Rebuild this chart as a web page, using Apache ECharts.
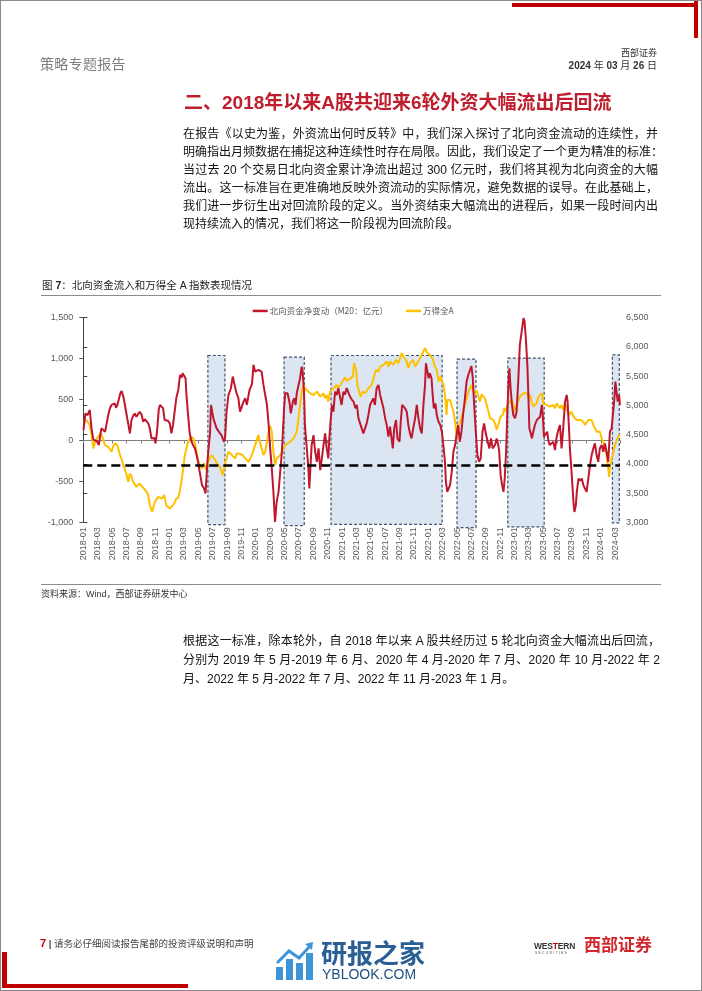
<!DOCTYPE html>
<html><head><meta charset="utf-8">
<script src="https://cdn.jsdelivr.net/npm/echarts/dist/echarts.min.js"></script>
<style>
html,body{margin:0;padding:0;background:#fff;}
#page{position:relative;width:702px;height:991px;overflow:hidden;background:#fff;font-family:"Liberation Sans","Noto Sans CJK SC",sans-serif;}
#frame{position:absolute;left:0;top:0;width:702px;height:991px;box-sizing:border-box;border:1px solid #8a8a8a;z-index:3;pointer-events:none;}
#chart{position:absolute;left:0;top:0;width:702px;height:991px;z-index:1;}
.t{position:absolute;white-space:nowrap;z-index:2;}
.ln{position:absolute;z-index:2;font-size:12px;line-height:19px;height:19px;color:#111;text-align:justify;text-align-last:justify;white-space:nowrap;}
.ln.last{text-align-last:left;}
.bar{position:absolute;background:#C00000;z-index:2;}
</style></head>
<body><div id="page">
<div id="frame"></div>
<div id="chart"></div>
<div class="bar" style="left:512px;top:3px;width:186px;height:3.5px;"></div>
<div class="bar" style="left:694px;top:0;width:4px;height:38px;"></div>
<div class="t" style="left:40px;top:55px;font-size:14px;line-height:18px;color:#808080;letter-spacing:0.3px;">策略专题报告</div>
<div class="t" style="right:45px;top:48px;font-size:9px;line-height:11px;color:#333;">西部证券</div>
<div class="t" style="right:45px;top:60px;font-size:10px;line-height:12px;color:#333;font-weight:bold;">2024 <span style="font-weight:normal">年</span> 03 <span style="font-weight:normal">月</span> 26 <span style="font-weight:normal">日</span></div>
<div class="t" style="left:184px;top:91px;font-size:19px;line-height:24px;color:#BE1E2D;font-weight:bold;">二、2018年以来A股共迎来6轮外资大幅流出后回流</div>

<div class="ln" style="left:183px;top:124.5px;width:475px;">在报告《以史为鉴，外资流出何时反转》中，我们深入探讨了北向资金流动的连续性，并</div>
<div class="ln" style="left:183px;top:142.5px;width:475px;">明确指出月频数据在捕捉这种连续性时存在局限。因此，我们设定了一个更为精准的标准：</div>
<div class="ln" style="left:183px;top:160.5px;width:475px;">当过去 20 个交易日北向资金累计净流出超过 300 亿元时，我们将其视为北向资金的大幅</div>
<div class="ln" style="left:183px;top:178.5px;width:475px;">流出。这一标准旨在更准确地反映外资流动的实际情况，避免数据的误导。在此基础上，</div>
<div class="ln" style="left:183px;top:196.5px;width:475px;">我们进一步衍生出对回流阶段的定义。当外资结束大幅流出的进程后，如果一段时间内出</div>
<div class="ln last" style="left:183px;top:214.5px;width:475px;">现持续流入的情况，我们将这一阶段视为回流阶段。</div>

<div class="t" style="left:42px;top:278px;font-size:10.5px;line-height:14px;color:#222;">图 <b>7</b>：北向资金流入和万得全 A 指数表现情况</div>
<div class="t" style="left:41px;top:295px;width:620px;height:0;border-top:1px solid #8c8c8c;"></div>
<div class="t" style="left:41px;top:584px;width:620px;height:0;border-top:1px solid #8c8c8c;"></div>
<div class="t" style="left:41px;top:588px;font-size:9px;line-height:12px;color:#333;">资料来源：Wind，西部证券研发中心</div>

<div class="ln" style="left:183px;top:631.5px;width:477px;">根据这一标准，除本轮外，自 2018 年以来 A 股共经历过 5 轮北向资金大幅流出后回流，</div>
<div class="ln" style="left:183px;top:650.5px;width:477px;">分别为 2019 年 5 月-2019 年 6 月、2020 年 4 月-2020 年 7 月、2020 年 10 月-2022 年 2</div>
<div class="ln last" style="left:183px;top:669.5px;width:477px;">月、2022 年 5 月-2022 年 7 月、2022 年 11 月-2023 年 1 月。</div>

<div class="t" style="left:40px;top:937px;font-size:9.5px;line-height:12px;color:#444;"><b style="color:#C00000;font-size:11px;">7</b> <b>|</b> 请务必仔细阅读报告尾部的投资评级说明和声明</div>
<div class="t" style="left:275px;top:941px;">
<svg width="40" height="40" viewBox="0 0 40 40"><rect x="1" y="26" width="7" height="13" fill="#3d94d6"/><rect x="11" y="18" width="7" height="21" fill="#3d94d6"/><rect x="21" y="22" width="7" height="17" fill="#3d94d6"/><rect x="31" y="12" width="7" height="27" fill="#3d94d6"/><polyline points="2,22 14,10 24,17 36,4" fill="none" stroke="#3d94d6" stroke-width="3"/><polygon points="30,3 38,1 37,9" fill="#3d94d6"/></svg></div>
<div class="t" style="left:321px;top:940px;font-size:26px;line-height:28px;color:#2a5f93;font-weight:bold;">研报之家</div>
<div class="t" style="left:322px;top:966px;font-size:14px;line-height:16px;color:#1f4f80;">YBLOOK.COM</div>
<div class="t" style="left:534px;top:941px;font-size:8.5px;line-height:10px;color:#333;font-weight:bold;letter-spacing:-0.2px;">WES<span style="color:#C00000">T</span>ERN</div>
<div class="t" style="left:535px;top:951px;font-size:3.5px;line-height:4px;color:#555;letter-spacing:1.2px;">SECURITIES</div>
<div class="t" style="left:584px;top:936px;font-size:17px;line-height:20px;color:#D0282E;font-weight:bold;">西部证券</div>
<div class="bar" style="left:2px;top:952px;width:5px;height:36px;"></div>
<div class="bar" style="left:2px;top:984px;width:186px;height:4px;"></div>
</div>
<script>
// ---------- data ----------
const tickLabels = ['2018-01','2018-03','2018-05','2018-07','2018-09','2018-11','2019-01','2019-03','2019-05','2019-07','2019-09','2019-11','2020-01','2020-03','2020-05','2020-07','2020-09','2020-11','2021-01','2021-03','2021-05','2021-07','2021-09','2021-11','2022-01','2022-03','2022-05','2022-07','2022-09','2022-11','2023-01','2023-03','2023-05','2023-07','2023-09','2023-11','2024-01','2024-03'];

const flowName = '北向资金净变动（M20：亿元）';
const indexName = '万得全A';

const flowDates = ['2018-01-02','2018-01-10','2018-01-19','2018-01-29','2018-02-05','2018-02-12','2018-02-19','2018-02-26','2018-03-06','2018-03-11','2018-03-17','2018-03-24','2018-04-02','2018-04-08','2018-04-15','2018-04-22','2018-04-29','2018-05-06','2018-05-13','2018-05-18','2018-05-24','2018-05-30','2018-06-05','2018-06-11','2018-06-18','2018-06-25','2018-07-02','2018-07-09','2018-07-16','2018-07-23','2018-07-30','2018-08-06','2018-08-13','2018-08-20','2018-08-27','2018-09-04','2018-09-11','2018-09-18','2018-09-25','2018-10-02','2018-10-09','2018-10-16','2018-10-23','2018-10-29','2018-11-02','2018-11-07','2018-11-11','2018-11-16','2018-11-21','2018-11-28','2018-12-04','2018-12-11','2018-12-18','2018-12-25','2019-01-02','2019-01-09','2019-01-16','2019-01-23','2019-01-30','2019-02-07','2019-02-14','2019-02-20','2019-02-24','2019-03-02','2019-03-08','2019-03-12','2019-03-19','2019-03-26','2019-04-03','2019-04-10','2019-04-17','2019-04-24','2019-04-30','2019-05-07','2019-05-17','2019-05-26','2019-06-01','2019-06-05','2019-06-09','2019-06-15','2019-06-20','2019-06-24','2019-06-27','2019-07-04','2019-07-11','2019-07-18','2019-07-25','2019-08-02','2019-08-09','2019-08-13','2019-08-19','2019-08-24','2019-08-30','2019-09-07','2019-09-17','2019-09-25','2019-10-01','2019-10-09','2019-10-19','2019-10-26','2019-11-03','2019-11-10','2019-11-17','2019-11-24','2019-12-01','2019-12-05','2019-12-11','2019-12-16','2019-12-22','2019-12-29','2020-01-05','2020-01-12','2020-01-19','2020-01-26','2020-02-03','2020-02-10','2020-02-17','2020-02-24','2020-03-01','2020-03-08','2020-03-15','2020-03-22','2020-03-29','2020-04-06','2020-04-13','2020-04-20','2020-04-24','2020-04-30','2020-05-04','2020-05-14','2020-05-22','2020-05-28','2020-06-06','2020-06-11','2020-06-17','2020-06-22','2020-06-29','2020-07-06','2020-07-13','2020-07-17','2020-07-23','2020-07-27','2020-08-04','2020-08-11','2020-08-15','2020-08-21','2020-08-25','2020-09-02','2020-09-09','2020-09-16','2020-09-23','2020-09-30','2020-10-07','2020-10-14','2020-10-21','2020-10-28','2020-11-04','2020-11-08','2020-11-14','2020-11-20','2020-11-25','2020-12-02','2020-12-09','2020-12-16','2020-12-23','2020-12-30','2021-01-07','2021-01-14','2021-01-21','2021-01-28','2021-02-04','2021-02-11','2021-02-18','2021-02-25','2021-03-03','2021-03-10','2021-03-17','2021-03-24','2021-03-31','2021-04-07','2021-04-14','2021-04-21','2021-04-28','2021-05-05','2021-05-12','2021-05-19','2021-05-26','2021-06-03','2021-06-10','2021-06-17','2021-06-24','2021-07-01','2021-07-08','2021-07-15','2021-07-22','2021-07-29','2021-08-03','2021-08-09','2021-08-17','2021-08-23','2021-09-01','2021-09-06','2021-09-12','2021-09-17','2021-09-24','2021-10-01','2021-10-08','2021-10-15','2021-10-22','2021-10-29','2021-11-06','2021-11-13','2021-11-20','2021-11-27','2021-12-04','2021-12-11','2021-12-18','2021-12-22','2021-12-28','2022-01-03','2022-01-08','2022-01-15','2022-01-20','2022-01-25','2022-02-01','2022-02-06','2022-02-13','2022-02-20','2022-02-27','2022-03-04','2022-03-11','2022-03-15','2022-03-21','2022-03-27','2022-04-02','2022-04-09','2022-04-16','2022-04-23','2022-04-30','2022-05-06','2022-05-13','2022-05-20','2022-05-27','2022-06-04','2022-06-11','2022-06-18','2022-06-25','2022-07-01','2022-07-07','2022-07-13','2022-07-20','2022-07-27','2022-08-03','2022-08-10','2022-08-18','2022-08-25','2022-09-01','2022-09-08','2022-09-16','2022-09-23','2022-09-30','2022-10-10','2022-10-17','2022-10-24','2022-10-28','2022-11-03','2022-11-09','2022-11-15','2022-11-20','2022-11-26','2022-12-01','2022-12-07','2022-12-10','2022-12-15','2022-12-21','2022-12-27','2023-01-03','2023-01-10','2023-01-17','2023-01-24','2023-02-01','2023-02-08','2023-02-12','2023-02-17','2023-02-23','2023-02-27','2023-03-03','2023-03-09','2023-03-14','2023-03-20','2023-03-27','2023-04-04','2023-04-11','2023-04-18','2023-04-25','2023-04-29','2023-05-04','2023-05-12','2023-05-18','2023-05-24','2023-05-29','2023-06-06','2023-06-13','2023-06-20','2023-06-27','2023-07-04','2023-07-11','2023-07-18','2023-07-25','2023-08-02','2023-08-09','2023-08-13','2023-08-19','2023-08-23','2023-08-30','2023-09-07','2023-09-11','2023-09-17','2023-09-21','2023-09-28','2023-10-05','2023-10-12','2023-10-19','2023-10-26','2023-11-02','2023-11-09','2023-11-16','2023-11-23','2023-11-30','2023-12-07','2023-12-14','2023-12-21','2023-12-28','2024-01-05','2024-01-12','2024-01-19','2024-01-26','2024-02-02','2024-02-09','2024-02-16','2024-02-23','2024-02-27','2024-03-02','2024-03-08','2024-03-12','2024-03-18','2024-03-22'];
const flowValues = [130,330,310,372,148,10,30,-10,-56,40,148,140,107,200,311,390,434,420,453,400,434,500,570,605,537,430,311,200,87,250,300,330,290,311,350,320,229,260,250,210,148,25,5,30,-36,60,189,380,434,440,393,250,270,240,209,87,189,352,515,617,801,770,821,801,760,556,311,87,-16,-60,-97,-180,-261,-383,-546,-587,-648,-465,-261,-56,87,434,420,270,250,148,140,87,60,25,-16,46,352,556,638,781,698,597,515,352,331,474,515,434,556,617,658,698,924,842,821,862,883,842,679,556,434,189,-97,-342,-628,-996,-751,-628,-383,-138,107,434,577,577,474,331,474,515,434,577,556,761,903,842,597,189,-97,-342,-587,-261,-56,66,-138,-261,-97,-363,-220,-56,87,-97,-220,25,270,434,352,597,556,638,536,434,597,560,640,620,536,500,474,393,434,270,250,148,87,148,209,311,434,474,515,434,638,679,556,577,393,270,189,46,168,148,-97,148,250,25,-16,230,434,450,393,352,189,87,25,148,270,434,270,148,87,434,679,944,842,761,821,760,556,393,450,311,229,189,87,-56,-261,-506,-628,-610,-546,-383,-138,-56,87,189,-16,107,311,515,720,800,860,910,761,434,107,-179,-261,-220,107,209,87,107,-97,25,-97,-56,25,-56,-138,-424,-546,-628,-465,-138,352,761,883,638,434,311,270,352,720,1169,1332,1496,1460,1251,924,556,148,87,25,107,189,250,230,290,434,311,46,25,107,-16,-56,-80,-16,-118,46,128,189,-97,148,474,556,474,148,-97,-383,-751,-874,-792,-628,-465,-490,-465,-546,-587,-628,-465,-301,-179,-97,-36,-179,-261,-97,-56,-138,-36,-138,-261,107,148,130,515,720,700,474,556,434];

const indexDates = ['2018-01-02','2018-01-14','2018-01-21','2018-01-29','2018-02-05','2018-02-12','2018-02-19','2018-02-26','2018-03-03','2018-03-14','2018-03-24','2018-04-01','2018-04-08','2018-04-15','2018-04-22','2018-04-29','2018-05-06','2018-05-13','2018-05-24','2018-06-04','2018-06-11','2018-06-18','2018-06-25','2018-07-02','2018-07-09','2018-07-16','2018-07-23','2018-07-30','2018-08-06','2018-08-13','2018-08-20','2018-08-27','2018-09-04','2018-09-11','2018-09-18','2018-09-25','2018-10-02','2018-10-09','2018-10-19','2018-10-30','2018-11-07','2018-11-14','2018-11-28','2018-12-09','2018-12-18','2019-01-02','2019-01-09','2019-01-21','2019-01-30','2019-02-07','2019-02-14','2019-02-21','2019-02-28','2019-03-05','2019-03-12','2019-03-19','2019-03-31','2019-04-10','2019-04-17','2019-04-24','2019-04-30','2019-05-07','2019-05-17','2019-05-26','2019-06-05','2019-06-12','2019-06-26','2019-07-03','2019-07-13','2019-07-18','2019-08-02','2019-08-13','2019-08-23','2019-08-30','2019-09-07','2019-09-21','2019-10-05','2019-10-12','2019-10-19','2019-11-03','2019-11-17','2019-12-01','2019-12-15','2019-12-29','2020-01-12','2020-01-19','2020-01-26','2020-02-03','2020-02-10','2020-02-17','2020-02-24','2020-03-01','2020-03-08','2020-03-15','2020-03-22','2020-03-29','2020-04-13','2020-04-27','2020-05-04','2020-05-11','2020-05-25','2020-06-09','2020-06-22','2020-06-29','2020-07-06','2020-07-13','2020-07-20','2020-07-27','2020-08-04','2020-08-18','2020-09-02','2020-09-16','2020-09-30','2020-10-14','2020-10-21','2020-10-28','2020-11-04','2020-11-11','2020-11-18','2020-11-25','2020-12-09','2020-12-16','2020-12-23','2020-12-30','2021-01-07','2021-01-14','2021-01-21','2021-01-28','2021-02-15','2021-02-20','2021-02-28','2021-03-05','2021-03-13','2021-03-19','2021-03-28','2021-04-07','2021-04-21','2021-05-05','2021-05-12','2021-05-23','2021-06-03','2021-06-10','2021-06-24','2021-07-08','2021-07-15','2021-07-22','2021-08-05','2021-08-17','2021-08-27','2021-09-10','2021-09-17','2021-10-01','2021-10-08','2021-10-15','2021-10-29','2021-11-06','2021-11-13','2021-11-27','2021-12-11','2021-12-18','2021-12-28','2022-01-08','2022-01-15','2022-01-22','2022-01-29','2022-02-06','2022-02-13','2022-02-20','2022-02-27','2022-03-04','2022-03-11','2022-03-18','2022-03-21','2022-04-02','2022-04-09','2022-04-16','2022-04-23','2022-04-30','2022-05-06','2022-05-13','2022-05-20','2022-05-27','2022-06-04','2022-06-11','2022-06-18','2022-06-25','2022-07-02','2022-07-09','2022-07-16','2022-07-23','2022-07-30','2022-08-07','2022-08-14','2022-08-21','2022-08-28','2022-09-05','2022-09-12','2022-09-19','2022-09-26','2022-10-03','2022-10-10','2022-10-17','2022-10-24','2022-10-28','2022-11-03','2022-11-12','2022-11-18','2022-11-24','2022-11-29','2022-12-06','2022-12-13','2022-12-20','2022-12-27','2023-01-03','2023-01-10','2023-01-17','2023-01-24','2023-02-01','2023-02-08','2023-02-15','2023-02-22','2023-02-28','2023-03-06','2023-03-13','2023-03-20','2023-03-27','2023-04-04','2023-04-11','2023-04-18','2023-04-25','2023-05-01','2023-05-15','2023-05-29','2023-06-13','2023-06-20','2023-06-27','2023-07-04','2023-07-11','2023-07-18','2023-07-25','2023-08-02','2023-08-09','2023-08-17','2023-08-23','2023-08-30','2023-09-07','2023-09-21','2023-10-05','2023-10-19','2023-10-26','2023-11-02','2023-11-09','2023-11-23','2023-11-30','2023-12-07','2023-12-14','2023-12-21','2023-12-28','2024-01-05','2024-01-12','2024-01-19','2024-01-26','2024-01-30','2024-02-03','2024-02-06','2024-02-09','2024-02-16','2024-02-23','2024-02-29','2024-03-07','2024-03-14','2024-03-22'];
const indexValues = [4700,4750,4720,4664,4500,4264,4378,4436,4410,4522,4436,4321,4350,4292,4250,4206,4300,4350,4321,4149,4080,3978,3900,3806,3692,3835,3780,3692,3650,3606,3640,3663,3620,3606,3560,3520,3463,3292,3177,3349,3380,3435,3406,3463,3292,3235,3206,3320,3406,3420,3549,3749,3978,4149,4264,4378,4464,4436,4350,4206,4064,3978,3921,4007,3892,4035,4149,4120,4064,4007,3949,3806,3978,4093,4206,4149,4093,4180,4149,4160,4093,4035,4149,4321,4493,4378,4264,4149,4206,4378,4550,4650,4550,4206,3978,4093,4149,4264,4321,4290,4378,4436,4550,4779,5007,5236,5350,5293,5264,5207,5178,5236,5150,5207,5121,5178,5064,5236,5264,5293,5350,5293,5320,5379,5436,5480,5420,5450,5493,5722,5607,5350,5236,5150,5236,5207,5293,5350,5379,5607,5580,5664,5693,5750,5664,5750,5693,5779,5720,5893,5836,5750,5636,5720,5779,5664,5693,5807,5922,5979,5893,5865,5893,5780,5664,5607,5407,5493,5520,5350,5178,4836,5093,5093,5121,4894,4721,4436,4608,4700,4779,4894,5007,5121,5236,5293,5350,5236,5200,5260,5236,5064,5190,5178,5121,5007,4894,4779,4750,4750,4693,4578,4600,4721,4808,4836,4951,4894,4979,5036,5007,5093,5007,4894,5007,5036,5150,5178,5207,5178,5207,5121,5178,5064,4979,5010,5036,5150,5178,5207,5036,5007,4979,5007,4951,5036,5007,4951,5007,4922,5036,5064,4836,4808,4894,4808,4750,4750,4721,4664,4636,4750,4750,4664,4636,4550,4522,4550,4436,4378,4264,4149,4035,3892,3778,3950,4093,4206,4321,4300,4464,4500];

// return-flow (回流) phases, shaded boxes
const phaseStart  = ['2019-06-11','2020-04-29','2020-11-15','2022-05-01','2022-12-03','2024-02-19'];
const phaseEnd    = ['2019-08-23','2020-07-24','2022-02-27','2022-07-21','2023-05-05','2024-03-19'];
const phaseTop    = [1038,1018,1038,994,1006,1046];
const phaseBottom = [-1028,-1040,-1025,-1065,-1057,-1008];

const outflowThreshold = -300;
const lastDate = '2024-03-22';

// ---------- helpers ----------
function monthIndex(s){
  const p = s.split('-').map(Number);
  const dim = new Date(p[0], p[1], 0).getDate();
  return (p[0]-2018)*12 + (p[1]-1) + (p[2]-1)/dim;
}
const xMax = monthIndex(lastDate);
const flowData = flowDates.map((d,i)=>[monthIndex(d), flowValues[i]]);
const indexData = indexDates.map((d,i)=>[monthIndex(d), indexValues[i]]);
const boxData = phaseStart.map((d,i)=>[monthIndex(d), monthIndex(phaseEnd[i]), phaseTop[i], phaseBottom[i]]);
const fmt = v => Number(v).toLocaleString('en-US');

const chart = echarts.init(document.getElementById('chart'), null, {renderer:'canvas'});
const axisFont = {fontFamily:'Liberation Sans, Arial', fontSize:9, color:'#595959'};
chart.setOption({
  animation:false,
  backgroundColor:'transparent',
  grid:{left:83.3, right:82, top:317.7, bottom:468.7, containLabel:false, outerBoundsMode:'none'},
  legend:{
    left:252.7, top:306.7, padding:0, itemWidth:15, itemHeight:2.5, itemGap:18, icon:'rect',
    textStyle:{fontFamily:'Noto Sans CJK SC', fontSize:8.5, color:'#595959', padding:[0,0,0,-3]},
    data:[flowName, indexName]
  },
  xAxis:[
    {type:'value', min:0, max:xMax, interval:2, position:'bottom',
     axisLine:{show:false, onZero:false}, axisTick:{show:false}, splitLine:{show:false},
     axisLabel:Object.assign({rotate:90, margin:5, showMaxLabel:false,
       formatter:v=>tickLabels[Math.round(v/2)] || ''}, axisFont)},
    {type:'value', min:0, max:xMax, interval:2, position:'top',
     axisLine:{show:true, onZero:true, lineStyle:{color:'#808080', width:1}},
     axisTick:{show:true, inside:true, length:3, lineStyle:{color:'#808080'}},
     axisLabel:{show:false}, splitLine:{show:false}}
  ],
  yAxis:[
    {type:'value', min:-1000, max:1500, interval:500, position:'left',
     axisLine:{show:true, lineStyle:{color:'#595959', width:1}},
     axisTick:{show:true, length:4, lineStyle:{color:'#595959'}},
     splitLine:{show:false},
     axisLabel:Object.assign({margin:10, formatter:fmt}, axisFont)},
    {type:'value', min:3000, max:6500, interval:500, position:'right',
     axisLine:{show:true, lineStyle:{color:'#404040', width:1}},
     axisTick:{show:true, length:4, lineStyle:{color:'#404040'}},
     splitLine:{show:false},
     axisLabel:Object.assign({margin:6, formatter:fmt}, axisFont)}
  ],
  series:[
    {type:'custom', name:'phases', xAxisIndex:0, yAxisIndex:0, clip:false, z:1, silent:true,
     encode:{x:[0,1], y:[2,3]},
     renderItem:function(params, api){
       const p1 = api.coord([api.value(0), api.value(2)]);
       const p2 = api.coord([api.value(1), api.value(3)]);
       return {type:'rect', shape:{x:p1[0], y:p1[1], width:p2[0]-p1[0], height:p2[1]-p1[1]},
               style:{fill:'#DCE6F2', stroke:'#44546A', lineWidth:1.2, lineDash:[3,2]}};
     },
     data:boxData},
    {type:'line', name:indexName, xAxisIndex:0, yAxisIndex:1, data:indexData, z:3,
     showSymbol:false, symbol:'none', lineStyle:{color:'#FFC000', width:2}, itemStyle:{color:'#FFC000'}},
    {type:'line', name:flowName, xAxisIndex:0, yAxisIndex:0, data:flowData, z:4,
     showSymbol:false, symbol:'none', lineStyle:{color:'#C0172E', width:2}, itemStyle:{color:'#C0172E'},
     markLine:{silent:true, symbol:['none','none'], label:{show:false},
       lineStyle:{color:'#000', width:2.5, type:[9,5]},
       data:[{yAxis:outflowThreshold}]}}
  ]
});
</script>
</body></html>
